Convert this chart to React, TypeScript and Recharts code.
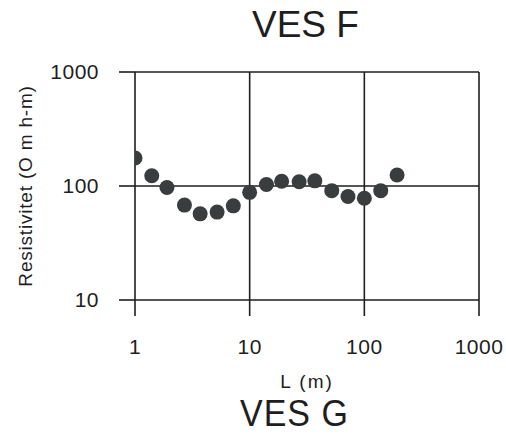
import React from 'react';
import {
  ScatterChart,
  Scatter,
  XAxis,
  YAxis,
  CartesianGrid,
  Label,
} from 'recharts';

// spacing L (m) and apparent resistivity (Ohm-m)
const spacing = [1, 1.4, 1.9, 2.7, 3.7, 5.2, 7.2, 10, 14, 19, 27, 37, 52, 72, 100, 139, 193];
const resistivity = [176, 123, 97, 68, 57, 59, 67, 88, 103, 110, 109, 111, 91, 81, 78, 91, 125];
const xTicks = [1, 10, 100, 1000];
const yTicks = [10, 100, 1000];

const data = spacing.map((l, i) => ({ l, rho: resistivity[i] }));

const font = '"Liberation Sans", Arial, sans-serif';
const ink = '#1e1e1e';

const Dot = (props: any) => (
  <circle cx={props.cx} cy={props.cy} r={7.5} fill="#3a3d3d" />
);

export default function App() {
  return (
    <div
      style={{
        position: 'absolute',
        left: 0,
        top: 0,
        width: 506,
        height: 434,
        background: '#fff',
        fontFamily: font,
        color: ink,
        overflow: 'hidden',
      }}
    >
      <div
        style={{
          position: 'absolute',
          top: 6,
          left: 252,
          fontSize: 37,
          lineHeight: '37px',
          whiteSpace: 'nowrap',
        }}
      >
        VES F
      </div>
      <div
        style={{
          position: 'absolute',
          top: 392,
          left: 240,
          fontSize: 34,
          lineHeight: '38px',
          letterSpacing: 1,
          whiteSpace: 'nowrap',
          transform: 'scaleY(1.1)',
          transformOrigin: 'top left',
        }}
      >
        VES G
      </div>
      <ScatterChart
        width={506}
        height={434}
        margin={{ top: 72, right: 27, bottom: 74, left: 5 }}
      >
        <CartesianGrid stroke={ink} strokeWidth={1.6} />
        <XAxis
          type="number"
          dataKey="l"
          scale="log"
          domain={[1, 1000]}
          ticks={xTicks}
          allowDataOverflow
          height={60}
          axisLine={false}
          tickLine={{ stroke: ink, strokeWidth: 1.6 }}
          tickSize={16}
          tickMargin={23}
          tickFormatter={(v) => String(v)}
          tick={{ fill: ink, fontSize: 21, fontFamily: font, letterSpacing: 0.5 }}
        >
          <Label
            value="L (m)"
            position="insideBottom"
            offset={-28}
            fill={ink}
            fontSize={19}
            fontFamily={font}
            letterSpacing={2}
          />
        </XAxis>
        <YAxis
          type="number"
          dataKey="rho"
          scale="log"
          domain={[10, 1000]}
          ticks={yTicks}
          allowDataOverflow
          width={130}
          axisLine={false}
          tickLine={{ stroke: ink, strokeWidth: 1.6 }}
          tickSize={16}
          tickMargin={20}
          tickFormatter={(v) => String(v)}
          tick={{ fill: ink, fontSize: 21, fontFamily: font, letterSpacing: 0.5 }}
        >
          <Label
            value="Resistivitet (O m h-m)"
            angle={-90}
            position="insideLeft"
            offset={20}
            style={{ textAnchor: 'middle' }}
            fill={ink}
            fontSize={19}
            fontFamily={font}
            letterSpacing={0.8}
          />
        </YAxis>
        <Scatter data={data} shape={<Dot />} isAnimationActive={false} />
      </ScatterChart>
    </div>
  );
}
